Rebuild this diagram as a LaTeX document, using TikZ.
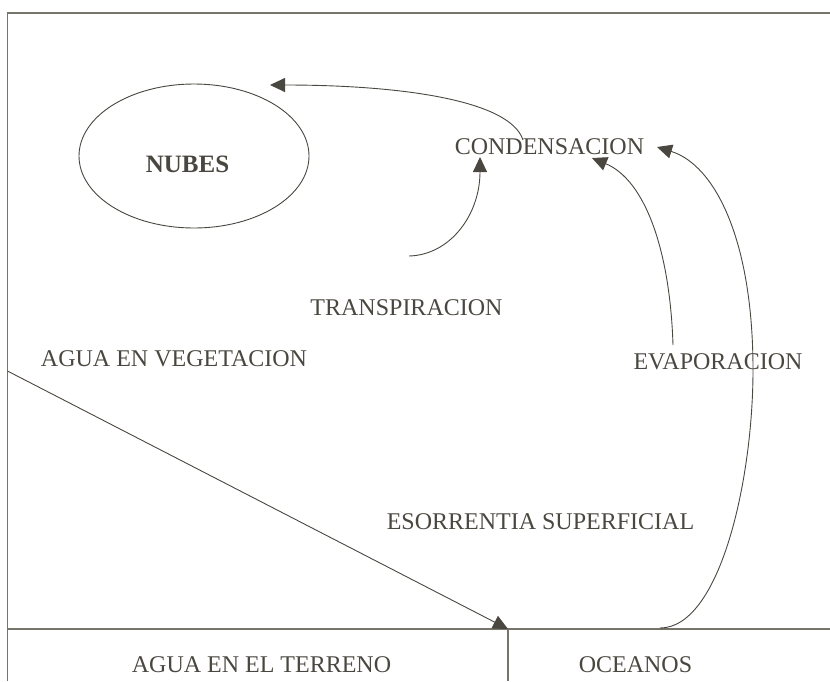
\documentclass[tikz,border=0pt]{standalone}
\usepackage{fontspec}
\setmainfont{Liberation Serif}
\usetikzlibrary{arrows.meta,shapes.geometric}
\definecolor{tinta}{HTML}{4A4740}
\definecolor{marco}{HTML}{77746C}
\tikzset{
	txt/.style={inner sep=0pt,anchor=base,text=tinta,font=\fontsize{24}{28}\selectfont},
	nube/.style={ellipse,draw=tinta,line width=0.9pt,minimum width=230pt,minimum height=144pt,inner sep=0pt},
	flecha/.style={draw=tinta,line width=0.9pt,-{Triangle[length=15pt,width=14pt]}},
	linea/.style={draw=marco,line width=1.6pt}
}
\begin{document}
\begin{tikzpicture}[x=1pt,y=-1pt]
	\useasboundingbox (0,0) rectangle (830,681);
	% marco
	\draw[linea] (830,13) -- (7.5,13) -- (7.5,681);
	\draw[linea] (7.5,629) -- (830,629);
	\draw[linea] (508,629) -- (508,681);

	\node [nube] (nubes) at (194,156) {};
	\node [txt,font=\fontsize{25}{29}\selectfont\bfseries] (nubtxt) at (187.5,172) {NUBES};
	\node [txt] (cond) at (549.5,154) {CONDENSACION};
	\node [txt] (trans) at (406.5,315) {TRANSPIRACION};
	\node [txt] (vege) at (174,366) {AGUA EN VEGETACION};
	\node [txt] (evap) at (718,369) {EVAPORACION};
	\node [txt] (esco) at (540.5,529) {ESORRENTIA SUPERFICIAL};
	\node [txt] (terreno) at (261.5,672) {AGUA EN EL TERRENO};
	\node [txt] (oceanos) at (635.5,672) {OCEANOS};

	\coordinate (c1) at (523,140);
	\coordinate (n1) at (270,85);
	\coordinate (t1) at (409,256);
	\coordinate (t2) at (480,157);
	\coordinate (e1) at (673,345);
	\coordinate (e2) at (592,158);
	\coordinate (o1) at (660,628);
	\coordinate (o2) at (753,370);
	\coordinate (o3) at (657,147);
	\coordinate (v1) at (7.5,371);
	\coordinate (v2) at (508,629);

	\draw[flecha] (c1) .. controls (510,100) and (400,85) .. (n1);
	\draw[flecha] (t1) .. controls (450,255) and (480,215) .. (t2);
	\draw[flecha] (e1) .. controls (670,250) and (645,180) .. (e2);
	\draw[flecha] (o1) .. controls (720,628) and (753,480) .. (o2)
		.. controls (753,240) and (715,165) .. (o3);
	\draw[flecha] (v1) -- (v2);
\end{tikzpicture}
\end{document}
